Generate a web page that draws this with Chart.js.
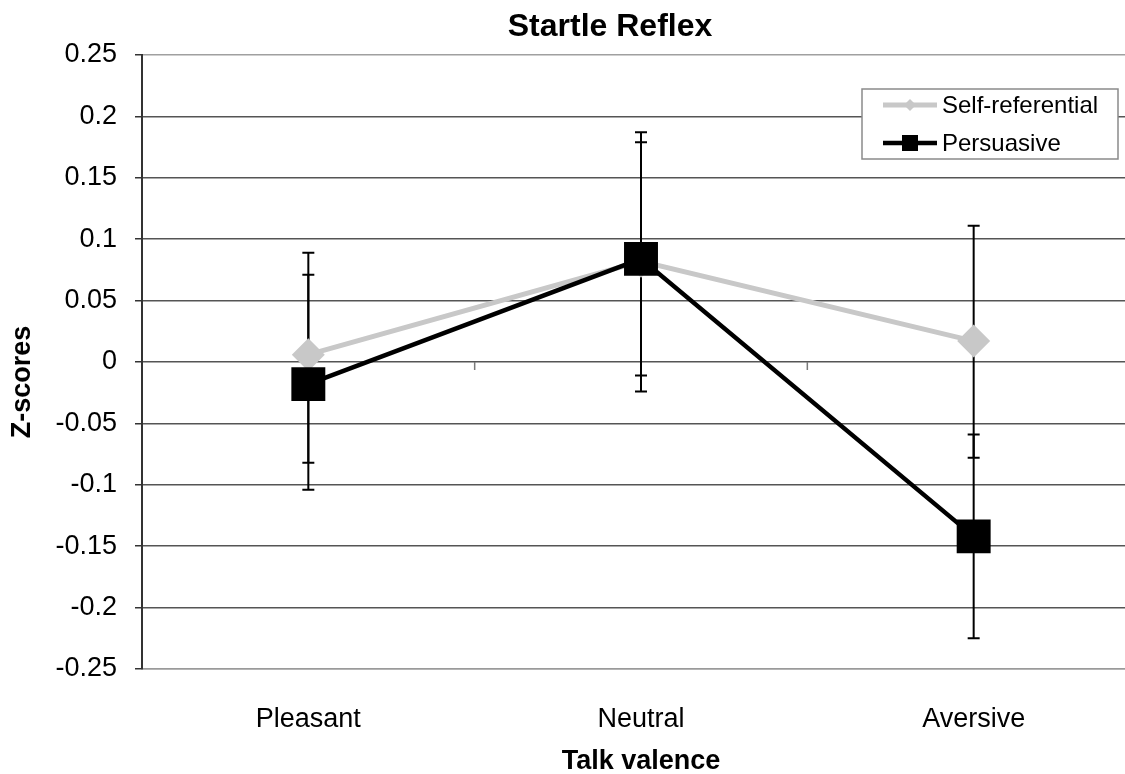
<!DOCTYPE html>
<html lang="en">
<head>
    <meta charset="UTF-8">
    <title>Startle Reflex</title>
    <script src="https://cdn.jsdelivr.net/npm/chart.js"></script>
    <style>
        html, body { margin: 0; padding: 0; background: #fff; overflow: hidden; }
        canvas { display: block; }
    </style>
</head>
<body>
    <canvas id="startleChart" width="1220" height="774"></canvas>
    <script>
        const categories = ['Pleasant', 'Neutral', 'Aversive'];
        const selfRef = [0.006, 0.082, 0.017];
        const selfRefLow = [-0.082, -0.011, -0.078];
        const selfRefHigh = [0.089, 0.179, 0.111];
        const persuasive = [-0.018, 0.084, -0.142];
        const persuasiveLow = [-0.104, -0.024, -0.225];
        const persuasiveHigh = [0.071, 0.187, -0.059];
        const yTickLabels = ['-0.25', '-0.2', '-0.15', '-0.1', '-0.05', '0', '0.05', '0.1', '0.15', '0.2', '0.25'];

        const FONT = "'Liberation Sans', Arial, sans-serif";
        const errors = [
            { low: selfRefLow, high: selfRefHigh },
            { low: persuasiveLow, high: persuasiveHigh }
        ];

        // error bars + the little ticks on the zero line, behind the markers
        const behindPlugin = {
            id: 'behind',
            beforeDatasetsDraw(chart) {
                const ctx = chart.ctx;
                const x = chart.scales.x, y = chart.scales.y;
                const y0 = y.getPixelForValue(0);
                ctx.save();
                ctx.strokeStyle = '#7a7a7a';
                ctx.lineWidth = 1.5;
                for (let i = 0; i < categories.length - 1; i++) {
                    const bx = (x.getPixelForValue(i) + x.getPixelForValue(i + 1)) / 2;
                    ctx.beginPath();
                    ctx.moveTo(bx, y0);
                    ctx.lineTo(bx, y0 + 8);
                    ctx.stroke();
                }
                ctx.strokeStyle = '#000';
                ctx.lineWidth = 2;
                errors.forEach(e => {
                    categories.forEach((c, i) => {
                        const px = x.getPixelForValue(i);
                        const lo = y.getPixelForValue(e.low[i]);
                        const hi = y.getPixelForValue(e.high[i]);
                        ctx.beginPath();
                        ctx.moveTo(px, lo); ctx.lineTo(px, hi);
                        ctx.moveTo(px - 6, lo); ctx.lineTo(px + 6, lo);
                        ctx.moveTo(px - 6, hi); ctx.lineTo(px + 6, hi);
                        ctx.stroke();
                    });
                });
                ctx.restore();
            }
        };

        // y title and boxed legend inside the plot
        const overlayPlugin = {
            id: 'overlay',
            afterDraw(chart) {
                const ctx = chart.ctx;
                const area = chart.chartArea;
                ctx.save();
                ctx.fillStyle = '#000';
                ctx.font = 'bold 27px ' + FONT;
                ctx.textAlign = 'center';
                ctx.textBaseline = 'middle';
                ctx.translate(area.left - 119, (area.top + area.bottom) / 2 + 20);
                ctx.rotate(-Math.PI / 2);
                ctx.fillText('Z-scores', 0, 0);
                ctx.restore();

                const bx = area.right - 278, by = area.top + 34, bw = 256, bh = 70;
                ctx.save();
                ctx.fillStyle = '#fff';
                ctx.fillRect(bx, by, bw, bh);
                ctx.strokeStyle = '#8a8a8a';
                ctx.lineWidth = 1.5;
                ctx.strokeRect(bx, by, bw, bh);
                ctx.font = '24px ' + FONT;
                ctx.textAlign = 'left';
                ctx.textBaseline = 'middle';
                chart.data.datasets.forEach((ds, i) => {
                    const ly = by + 16 + i * 38;
                    const x1 = bx + 21, x2 = bx + 75, mx = (x1 + x2) / 2;
                    ctx.strokeStyle = ds.borderColor;
                    ctx.lineWidth = ds.borderWidth;
                    ctx.beginPath();
                    ctx.moveTo(x1, ly); ctx.lineTo(x2, ly);
                    ctx.stroke();
                    ctx.fillStyle = ds.pointBackgroundColor;
                    ctx.beginPath();
                    if (ds.pointStyle === 'rectRot') {
                        ctx.moveTo(mx - 6, ly); ctx.lineTo(mx, ly - 6);
                        ctx.lineTo(mx + 6, ly); ctx.lineTo(mx, ly + 6);
                        ctx.closePath();
                    } else {
                        ctx.rect(mx - 8, ly - 8, 16, 16);
                    }
                    ctx.fill();
                    ctx.fillStyle = '#000';
                    ctx.fillText(ds.label, x2 + 5, ly + 1);
                });
                ctx.restore();
            }
        };

        const ctx = document.getElementById('startleChart').getContext('2d');
        new Chart(ctx, {
            type: 'line',
            data: {
                labels: categories,
                datasets: [{
                    label: 'Self-referential',
                    data: selfRef,
                    borderColor: '#c8c8c8',
                    borderWidth: 5,
                    pointStyle: 'rectRot',
                    pointRadius: 16.5,
                    pointBackgroundColor: '#c8c8c8',
                    pointBorderColor: '#c8c8c8',
                    pointBorderWidth: 0,
                    order: 2
                }, {
                    label: 'Persuasive',
                    data: persuasive,
                    borderColor: '#000',
                    borderWidth: 4.5,
                    pointStyle: 'rect',
                    pointRadius: 24,
                    pointBackgroundColor: '#000',
                    pointBorderColor: '#000',
                    pointBorderWidth: 0,
                    order: 1
                }]
            },
            options: {
                responsive: false,
                animation: false,
                layout: { padding: 0 },
                scales: {
                    x: {
                        offset: true,
                        afterFit(scale) { scale.height = 105; },
                        grid: { display: false },
                        border: { display: true, color: '#9a9a9a', width: 1.5 },
                        ticks: { color: '#000', padding: 26, font: { family: FONT, size: 27 } },
                        title: {
                            display: true,
                            text: 'Talk valence',
                            color: '#000',
                            padding: { top: 0, bottom: 0 },
                            font: { family: FONT, size: 27, weight: 'bold', lineHeight: 0.95 }
                        }
                    },
                    y: {
                        min: -0.25,
                        max: 0.25,
                        afterFit(scale) { scale.width = 142; },
                        grid: {
                            color: c => Math.abs(Math.abs(c.tick.value) - 0.25) < 1e-9 ? '#a0a0a0' : '#555',
                            lineWidth: 1.5,
                            tickLength: 7,
                            tickColor: '#333'
                        },
                        border: { display: true, color: '#333', width: 2 },
                        ticks: {
                            stepSize: 0.05,
                            color: '#000',
                            padding: 18,
                            font: { family: FONT, size: 27 },
                            callback: v => yTickLabels.find(t => Math.abs(Number(t) - v) < 1e-9) ?? ''
                        }
                    },
                    // empty spacer on the right, it only keeps the plot's right edge past the window
                    yRight: {
                        position: 'right',
                        min: -0.25,
                        max: 0.25,
                        afterFit(scale) { scale.width = 80; },
                        grid: { display: false },
                        border: { display: false },
                        ticks: { display: false }
                    }
                },
                plugins: {
                    legend: { display: false },
                    tooltip: { enabled: false },
                    title: {
                        display: true,
                        text: 'Startle Reflex',
                        color: '#000',
                        padding: { top: 7.5, bottom: 9.1 },
                        font: { family: FONT, size: 32, weight: 'bold' }
                    }
                }
            },
            plugins: [behindPlugin, overlayPlugin]
        });
    </script>
</body>
</html>
